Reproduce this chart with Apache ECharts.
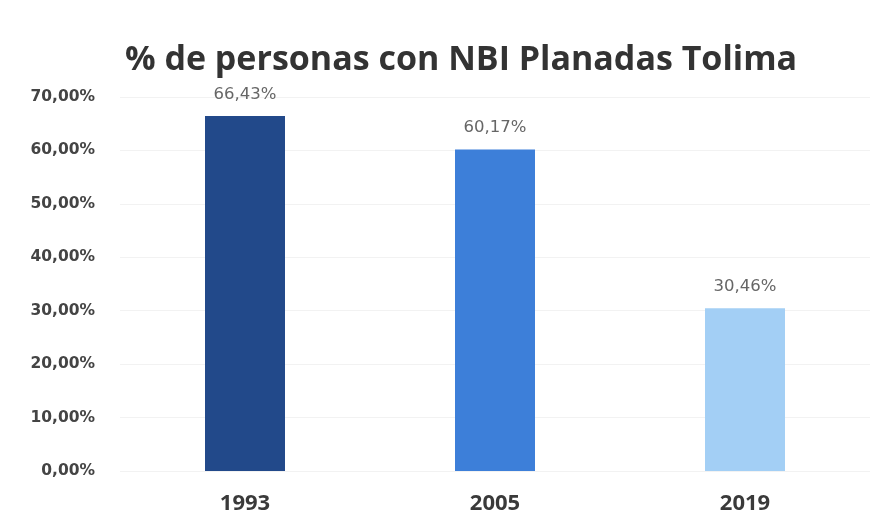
<!DOCTYPE html>
<html>
<head>
<meta charset="utf-8">
<script src="https://cdn.jsdelivr.net/npm/echarts@6/dist/echarts.min.js"></script>
<style>html,body{margin:0;padding:0;background:#fff;}#c{width:880px;height:527px;}</style>
</head>
<body>
<div id="c"></div>
<script>
var categories = ['1993', '2005', '2019'];
var values = [66.43, 60.17, 30.46];
var barColors = ['#22498a', '#3d7fd9', '#a3cff5'];
var yTicks = [0, 10, 20, 30, 40, 50, 60, 70];

function fmt(v) { return v.toFixed(2).replace('.', ',') + '%'; }

var chart = echarts.init(document.getElementById('c'));
chart.setOption({
  backgroundColor: '#ffffff',
  title: {
    text: '% de personas con NBI Planadas Tolima',
    left: 456, top: 38, textAlign: 'center',
    textStyle: { fontFamily: 'Open Sans', fontWeight: 'bold', fontSize: 34, color: '#333333' }
  },
  grid: { left: 120, right: 10, top: 97, bottom: 56 },
  xAxis: {
    type: 'category', data: categories,
    axisLine: { show: false }, axisTick: { show: false },
    axisLabel: { margin: 22, fontFamily: 'Open Sans', fontWeight: 'bold', fontSize: 22, color: '#3a3a3a' }
  },
  yAxis: {
    type: 'value', min: yTicks[0], max: yTicks[yTicks.length - 1], interval: 10,
    axisLine: { show: false }, axisTick: { show: false },
    splitLine: { lineStyle: { color: '#f2f2f2', width: 1 } },
    axisLabel: { margin: 25, fontFamily: 'DejaVu Sans', fontWeight: 'bold', fontSize: 15.5, color: '#444444', formatter: fmt }
  },
  series: [{
    type: 'bar', barWidth: 80,
    data: values.map(function (v, i) { return { value: v, itemStyle: { color: barColors[i] } }; }),
    label: { show: true, position: 'top', distance: 13, fontFamily: 'DejaVu Sans', fontSize: 16.5, color: '#666666',
      formatter: function (p) { return fmt(p.value); } }
  }]
});
</script>
</body>
</html>
